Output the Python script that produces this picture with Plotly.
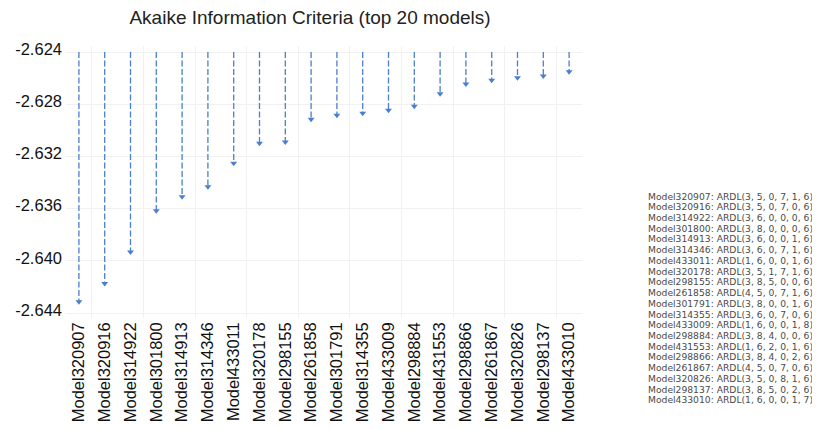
import plotly.graph_objects as go

# ---- data ----
models = ["Model320907", "Model320916", "Model314922", "Model301800", "Model314913",
          "Model314346", "Model433011", "Model320178", "Model298155", "Model261858",
          "Model301791", "Model314355", "Model433009", "Model298884", "Model431553",
          "Model298866", "Model261867", "Model320826", "Model298137", "Model433010"]
aic = [-2.64313, -2.64173, -2.63933, -2.63616, -2.63509,
       -2.63432, -2.63253, -2.63100, -2.63090, -2.62916,
       -2.62885, -2.62870, -2.62847, -2.62816, -2.62719,
       -2.62645, -2.62617, -2.62597, -2.62584, -2.62551]
specs = ["ARDL(3, 5, 0, 7, 1, 6)", "ARDL(3, 5, 0, 7, 0, 6)", "ARDL(3, 6, 0, 0, 0, 6)",
         "ARDL(3, 8, 0, 0, 0, 6)", "ARDL(3, 6, 0, 0, 1, 6)", "ARDL(3, 6, 0, 7, 1, 6)",
         "ARDL(1, 6, 0, 0, 1, 6)", "ARDL(3, 5, 1, 7, 1, 6)", "ARDL(3, 8, 5, 0, 0, 6)",
         "ARDL(4, 5, 0, 7, 1, 6)", "ARDL(3, 8, 0, 0, 1, 6)", "ARDL(3, 6, 0, 7, 0, 6)",
         "ARDL(1, 6, 0, 0, 1, 8)", "ARDL(3, 8, 4, 0, 0, 6)", "ARDL(1, 6, 2, 0, 1, 6)",
         "ARDL(3, 8, 4, 0, 2, 6)", "ARDL(4, 5, 0, 7, 0, 6)", "ARDL(3, 5, 0, 8, 1, 6)",
         "ARDL(3, 8, 5, 0, 2, 6)", "ARDL(1, 6, 0, 0, 1, 7)"]
y_ticks = [-2.624, -2.628, -2.632, -2.636, -2.640, -2.644]
y_tick_labels = ["-2.624", "-2.628", "-2.632", "-2.636", "-2.640", "-2.644"]
arrow_start = -2.624

# ---- layout constants (page has an 8px body margin) ----
OFF = 8
W, H = 820 - OFF, 429 - OFF
ML, MR, MT, MB = 66 - OFF, 238, 46 - OFF, 111
PW, PH = W - ML - MR, H - MT - MB
BLUE = "#4a7fcf"
FONT = "Liberation Sans, Arial, sans-serif"

idx = list(range(len(models)))

line_x, line_y = [], []
for i, v in zip(idx, aic):
    line_x += [i, i, None]
    line_y += [arrow_start, v, None]

fig = go.Figure()
fig.add_trace(go.Scatter(x=line_x, y=line_y, mode="lines",
                         line=dict(color=BLUE, width=1.3, dash="6px,2.5px"),
                         hoverinfo="skip", showlegend=False))
fig.add_trace(go.Scatter(x=idx, y=aic, mode="markers",
                         marker=dict(symbol="triangle-down", size=6, color=BLUE),
                         text=models, showlegend=False))

annotations = []
first_py, step_py = 196.0, 10.73   # page pixels
for i, (m, s) in enumerate(zip(models, specs)):
    py = first_py + i * step_py - OFF
    annotations.append(dict(
        text=f"{m}: {s}", xref="paper", yref="paper",
        x=(646 - OFF - ML) / PW, y=(H - MB - py) / PH,
        xanchor="left", yanchor="middle", showarrow=False,
        font=dict(family="DejaVu Sans, sans-serif", size=9.2, color="#4a4a4a")))

fig.update_layout(
    width=W, height=H,
    margin=dict(l=ML, r=MR, t=MT, b=MB),
    paper_bgcolor="white", plot_bgcolor="white",
    font=dict(family=FONT, color="#111111"),
    title=dict(text="Akaike Information Criteria (top 20 models)",
               x=(310 - OFF) / W, xref="container", xanchor="center",
               y=1 - (17 - OFF) / H, yanchor="middle",
               font=dict(family=FONT, size=19, color="#222222")),
    xaxis=dict(range=[-0.5, len(models) - 0.5], tickmode="array",
               tickvals=idx, ticktext=models, tickangle=-90, automargin=False,
               tickfont=dict(size=16.5, color="#111111"),
               showgrid=False, zeroline=False, showline=False, ticks="",
               minor=dict(tick0=0.5, dtick=2, showgrid=True,
                          gridcolor="#f1f1f1", gridwidth=1, ticks="")),
    yaxis=dict(range=[-2.644 - 5 / 13050, -2.624 + 6 / 13050], automargin=False,
               tickmode="array", tickvals=y_ticks, ticktext=y_tick_labels,
               tickfont=dict(size=16.5, color="#111111"),
               ticklabelstandoff=3, ticklabelshift=-3,
               showgrid=True, gridcolor="#f1f1f1", gridwidth=1,
               zeroline=False, showline=False, ticks=""),
    annotations=annotations,
)

fig.write_html("out.html")
